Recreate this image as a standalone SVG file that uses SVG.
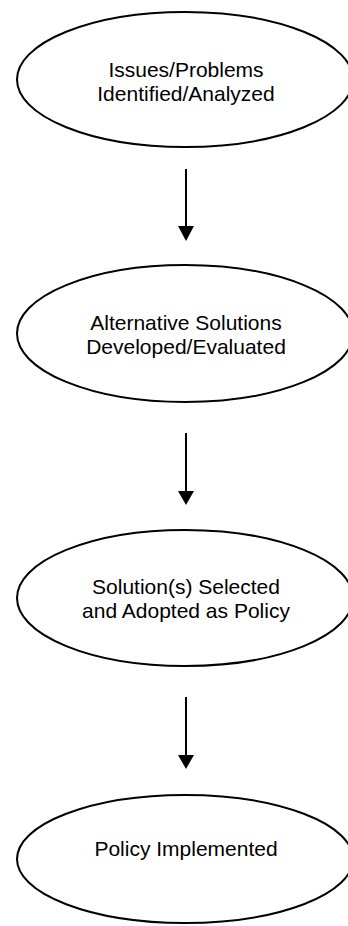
<svg xmlns="http://www.w3.org/2000/svg" width="348" height="926" viewBox="0 0 348 926">
<style>
.node ellipse{fill:#fff;stroke:#000;stroke-width:2}
.node text{font-family:"Liberation Sans",Arial,sans-serif;font-size:21px;fill:#000;text-anchor:middle}
.conn line{stroke:#000;stroke-width:2}
.conn polygon{fill:#000}
</style>
<rect width="348" height="926" fill="#fff"/>
<g id="n1" class="node">
<ellipse cx="185" cy="79.5" rx="168" ry="67.5"/>
<text x="186" y="77">Issues/Problems</text>
<text x="186" y="101">Identified/Analyzed</text>
</g>
<g id="n2" class="node">
<ellipse cx="185" cy="333.5" rx="168" ry="68.5"/>
<text x="186" y="330">Alternative Solutions</text>
<text x="186" y="354">Developed/Evaluated</text>
</g>
<g id="n3" class="node">
<ellipse cx="185" cy="598" rx="168" ry="68"/>
<text x="186" y="594">Solution(s) Selected</text>
<text x="186" y="618">and Adopted as Policy</text>
</g>
<g id="n4" class="node">
<ellipse cx="185" cy="859" rx="168" ry="64"/>
<text x="186" y="856">Policy Implemented</text>
</g>
<g id="connectors" class="conn">
<line x1="186" y1="169" x2="186" y2="228"/>
<polygon points="178,226 194,226 186,241"/>
<line x1="186" y1="433" x2="186" y2="493"/>
<polygon points="178,491 194,491 186,505"/>
<line x1="186" y1="697" x2="186" y2="757"/>
<polygon points="178,755 194,755 186,769"/>
</g>
</svg>
